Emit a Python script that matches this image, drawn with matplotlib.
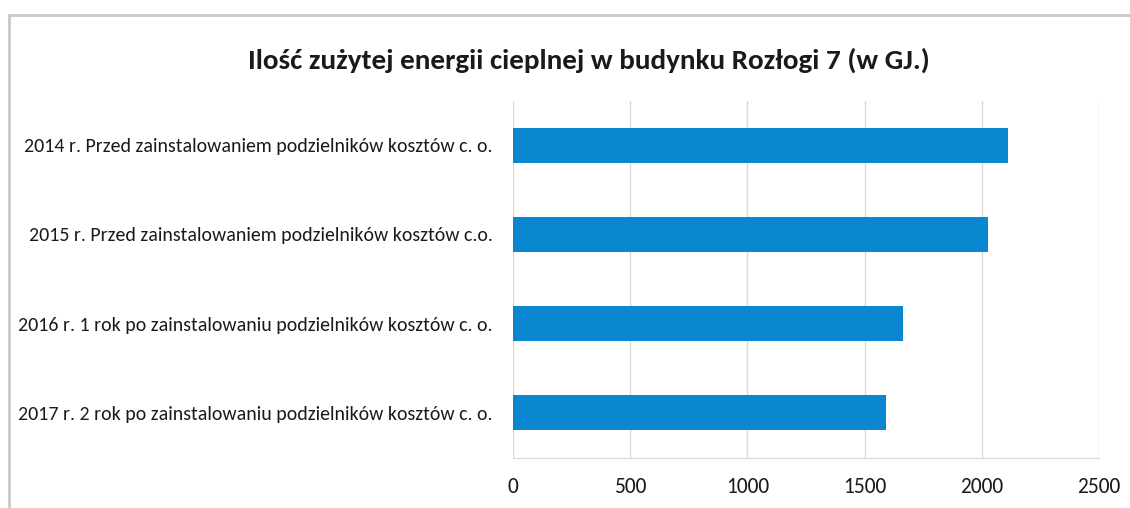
import matplotlib
matplotlib.use("Agg")
import matplotlib.pyplot as plt
from matplotlib.patches import Rectangle

categories = [
    "2014 r. Przed zainstalowaniem podzielników kosztów c. o.",
    "2015 r. Przed zainstalowaniem podzielników kosztów c.o.",
    "2016 r. 1 rok po zainstalowaniu podzielników kosztów c. o.",
    "2017 r. 2 rok po zainstalowaniu podzielników kosztów c. o.",
]
values = [2110, 2025, 1665, 1590]
xticks = [0, 500, 1000, 1500, 2000, 2500]
title = "Ilość zużytej energii cieplnej w budynku Rozłogi 7 (w GJ.)"

FONT = ["Carlito", "Archivo Narrow", "DejaVu Sans"]

fig = plt.figure(figsize=(11.3, 5.08), dpi=100)
ax = fig.add_axes([513/1130, 1-457.5/508, (1099-513)/1130, (457.5-100.5)/508])

pos = list(range(len(categories)))
ax.barh(pos, values, height=0.39, color="#0b87d2", zorder=3)
ax.set_ylim(len(categories) - 0.5, -0.5)
ax.set_xlim(0, 2500)
ax.set_xticks(xticks)
ax.set_xticklabels([str(t) for t in xticks], fontfamily=FONT, fontsize=15.5, color="#1a1a1a")
ax.set_yticks(pos)
ax.set_yticklabels(categories, fontfamily=FONT, fontsize=14.3, color="#1a1a1a")
ax.tick_params(axis="both", length=0)
ax.tick_params(axis="x", pad=14)
ax.tick_params(axis="y", pad=14.5)
ax.grid(axis="x", color="#d9d9d9", linewidth=1, zorder=0)
for s in ["top", "right", "left"]:
    ax.spines[s].set_visible(False)
ax.spines["bottom"].set_color("#d9d9d9")

fig.text(589/1130, 1-60/508, title, ha="center", va="center",
         fontfamily=FONT, fontsize=21, fontweight="bold", color="#1a1a1a")

# chart frame
fig.add_artist(Rectangle((9/1130, -0.05), 1.2, 1-15/508+0.05, transform=fig.transFigure,
                         fill=False, edgecolor="#c8c8c8", linewidth=2))

fig.savefig("out.png", dpi=100, facecolor="white")
